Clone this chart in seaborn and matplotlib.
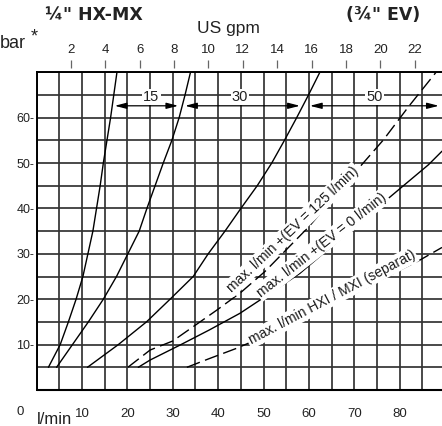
import numpy as np
import pandas as pd
import matplotlib
matplotlib.use("Agg")
import matplotlib.pyplot as plt
from matplotlib.ticker import MultipleLocator
import seaborn as sns

# ---------------- data ----------------
c1_q = [2.6, 5.2, 7.0, 8.7, 10.2, 11.3, 12.4, 13.2, 14.0, 14.7, 15.5, 16.3, 17.0, 17.7]
c1_p = [5, 10, 15, 20, 25, 30, 35, 40, 45, 50, 55, 60, 65, 70]

c2_q = [4.4, 7.9, 11.4, 14.7, 17.6, 20.1, 22.6, 24.3, 26.1, 27.9, 29.8, 31.4, 32.7, 33.9]
c2_p = [5, 10, 15, 20, 25, 30, 35, 40, 45, 50, 55, 60, 65, 70]

c3_q = [11.2, 18.0, 24.2, 29.4, 34.5, 37.8, 41.5, 45.0, 48.6, 51.8, 54.6, 57.3, 59.9, 62.4]
c3_p = [5, 10, 15, 20, 25, 30, 35, 40, 45, 50, 55, 60, 65, 70]

ev125_q = [20.1, 25.0, 30.0, 35.0, 39.7, 45.0, 50.3, 60.0, 71.6, 76.4, 82.0, 88.0]
ev125_p = [5, 8.8, 10.8, 14.3, 17.6, 21.5, 26.1, 36.0, 49.6, 55.1, 62.5, 70]

ev0_q = [22.4, 25.0, 31.6, 38.0, 44.8, 51.0, 58.0, 64.0, 69.8, 76.4, 82.0, 86.3, 89.3]
ev0_p = [5, 6.6, 9.9, 13.2, 16.9, 21.0, 25.7, 30.8, 35.6, 41.3, 46.0, 49.6, 52.6]

sep_q = [33.1, 38.0, 44.1, 51.0, 58.0, 70.0, 78.0, 84.4, 89.3]
sep_p = [5, 6.9, 9.2, 12.2, 15.4, 21.2, 25.4, 28.6, 31.4]

x_ticks = [10, 20, 30, 40, 50, 60, 70, 80]
x_tick_labels = ["10", "20", "30", "40", "50", "60", "70", "80"]
y_ticks = [10, 20, 30, 40, 50, 60]
y_tick_labels = ["10-", "20-", "30-", "40-", "50-", "60-"]
gpm_ticks = [2, 4, 6, 8, 10, 12, 14, 16, 18, 20, 22]
gpm_tick_labels = [str(g) for g in gpm_ticks]
LPM_PER_GPM = 3.785

range_labels = ["15", "30", "50"]
range_label_q = [25.3, 44.8, 74.5]
range_left_q = [17.2, 32.7, 60.2]
range_right_q = [31.2, 58.0, 88.6]
range_arrow_p = 62.6
range_label_p = 64.5

curve_labels = ["max. l/min +(EV = 125 l/min)",
                "max. l/min +(EV = 0 l/min)",
                "max. l/min HXI / MXI (separat)"]
curve_label_q = [56.4, 62.8, 65.0]
curve_label_p = [35.4, 32.0, 20.4]
curve_label_rot = [43.5, 38.0, 27.8]

# ---------------- style ----------------
sns.set_style("white")
plt.rcParams["font.family"] = ["Liberation Sans", "DejaVu Sans"]

W, H = 442, 426
fig = plt.figure(figsize=(W / 100, H / 100), dpi=100)
left_px, right_px, top_px, bottom_px = 36.6, 442.0, 72.2, 390.0
ax = fig.add_axes([left_px / W, 1 - bottom_px / H,
                   (right_px - left_px) / W, (bottom_px - top_px) / H])
ax.set_xlim(0, 89.3)
ax.set_ylim(0, 70)

grid_col = "#333333"
ax.xaxis.set_minor_locator(MultipleLocator(5))
ax.yaxis.set_minor_locator(MultipleLocator(5))
ax.set_xticks(x_ticks)
ax.set_xticklabels(x_tick_labels)
ax.set_yticks(y_ticks)
ax.set_yticklabels(y_tick_labels)
ax.grid(which="both", color=grid_col, lw=1.25)
ax.set_axisbelow(True)

ax.spines["right"].set_visible(False)
ax.spines["left"].set_color("black")
ax.spines["left"].set_linewidth(1.4)
ax.spines["top"].set_color("black")
ax.spines["top"].set_linewidth(1.4)
ax.spines["bottom"].set_position(("outward", 5.5))
ax.spines["bottom"].set_color("none")
ax.axhline(0, color="black", lw=1.5, clip_on=False, zorder=1)

ax.tick_params(axis="x", which="major", direction="out", length=6, width=0.9,
               color="#666666", labelsize=9.5, pad=1.5, labelcolor="#222222")
ax.tick_params(axis="x", which="minor", length=0)
ax.tick_params(axis="y", which="both", length=0, pad=1.5, labelsize=9,
               labelcolor="#222222")

# top gpm axis
sec = ax.secondary_xaxis(1 + 4.5 / (bottom_px - top_px),
                         functions=(lambda q: q / LPM_PER_GPM, lambda g: g * LPM_PER_GPM))
sec.set_xticks(gpm_ticks)
sec.set_xticklabels(gpm_tick_labels)
for s in sec.spines.values():
    s.set_color("none")
sec.tick_params(direction="out", length=6, width=0.9, color="#666666",
                labelsize=9.5, pad=2.5, labelcolor="#222222")

# ---------------- curves ----------------
solid = dict(color="black", lw=1.0)
dash = dict(color="black", lw=1.0, linestyle=(0, (10, 4)))
for q, p, kw in [(c1_q, c1_p, solid), (c2_q, c2_p, solid), (c3_q, c3_p, solid),
                 (ev125_q, ev125_p, dash), (ev0_q, ev0_p, solid), (sep_q, sep_p, dash)]:
    df = pd.DataFrame({"q": q, "p": p})
    sns.lineplot(data=df, x="q", y="p", ax=ax, sort=False, estimator=None,
                 zorder=3, **kw)
ax.set_xlabel("")
ax.set_ylabel("")

# range arrows
for lab, lq, a, b in zip(range_labels, range_label_q, range_left_q, range_right_q):
    ax.annotate("", xy=(a, range_arrow_p), xytext=(b, range_arrow_p),
                arrowprops=dict(arrowstyle="<|-|>,head_length=0.7,head_width=0.18",
                                color="black", lw=0.9, shrinkA=0, shrinkB=0),
                zorder=4)
    ax.text(lq, range_label_p, lab, ha="center", va="center", fontsize=10.5,
            color="#222222", zorder=6,
            bbox=dict(facecolor="white", edgecolor="none", pad=0.8))

# curve labels (white background hides grid and curve behind the text)
for lab, lq, lp, rot in zip(curve_labels, curve_label_q, curve_label_p, curve_label_rot):
    t = ax.text(lq, lp, lab, ha="center", va="center", rotation=rot,
                rotation_mode="anchor", fontsize=10, color="#1a1a1a", zorder=6,
                bbox=dict(boxstyle="square,pad=0.12", facecolor="white",
                          edgecolor="none", alpha=1.0))

# ---------------- figure texts ----------------
fig.text(0.0, 1 - 44 / H, "bar", fontsize=13, ha="left", va="center", color="#222222")
fig.text(31 / W, 1 - 37 / H, "*", fontsize=13, ha="left", va="center", color="#222222")
fig.text(228 / W, 1 - 28 / H, "US gpm", fontsize=12.5, ha="center", va="center",
         color="#222222")
fig.text(45 / W, 1 - 15 / H, "¼\" HX-MX", fontsize=12.5, fontweight="bold",
         family=["DejaVu Sans"], ha="left", va="center", color="#222222")
fig.text(420 / W, 1 - 15 / H, "(¾\" EV)", fontsize=12.5, fontweight="bold",
         family=["DejaVu Sans"], ha="right", va="center", color="#222222")
fig.text(20 / W, 1 - 412 / H, "0", fontsize=9.5, ha="center", va="center",
         color="#222222")
fig.text(37 / W, 1 - 423.5 / H, "l/min", fontsize=12, ha="left", va="baseline",
         color="#222222")

fig.savefig("out.png", dpi=100)
